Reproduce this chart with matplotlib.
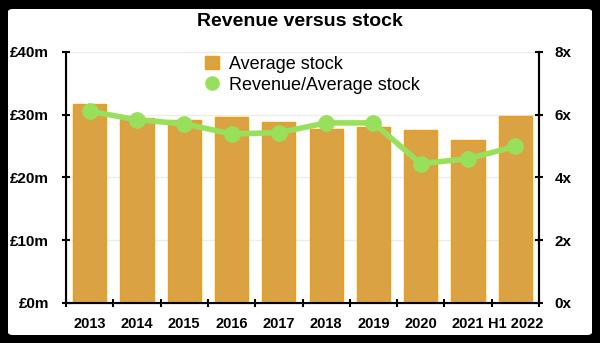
import numpy as np
import matplotlib
matplotlib.use("Agg")
import matplotlib.pyplot as plt
from matplotlib.patches import FancyBboxPatch, Patch
from matplotlib.lines import Line2D

plt.rcParams['font.family'] = ['Liberation Sans', 'DejaVu Sans']

years = ["2013", "2014", "2015", "2016", "2017", "2018", "2019", "2020", "2021", "H1 2022"]
avg_stock = [31.7, 29.5, 29.1, 29.6, 28.9, 27.8, 28.1, 27.5, 25.9, 29.8]   # £m
rev_ratio = [6.11, 5.84, 5.71, 5.39, 5.43, 5.74, 5.74, 4.44, 4.60, 4.99]   # x
left_ticks = [0, 10, 20, 30, 40]
left_labels = ["£0m", "£10m", "£20m", "£30m", "£40m"]
right_ticks = [0, 2, 4, 6, 8]
right_labels = ["0x", "2x", "4x", "6x", "8x"]

bar_fill = '#dba243'
bar_edge = '#e8a01c'
line_col = '#98e05c'

fig = plt.figure(figsize=(6, 3.43), dpi=100)
fig.patch.set_facecolor('black')
# white rounded panel inside the black frame
panel = FancyBboxPatch((8 / 600, 8 / 343), 584 / 600, 326 / 343,
                       boxstyle="round,pad=0,rounding_size=0.008",
                       transform=fig.transFigure, facecolor='white',
                       edgecolor='none', zorder=-10)
fig.patches.append(panel)

ax = fig.add_axes([66 / 600, 1 - 303 / 343, 473 / 600, 251 / 343])
ax.set_facecolor('none')
x = np.arange(len(years))
ax.bar(x, avg_stock, width=0.7, color=bar_fill, edgecolor=bar_edge, linewidth=1, zorder=2)
ax.set_xlim(-0.5, len(years) - 0.5)
ax.set_ylim(0, 40)
ax.set_yticks(left_ticks)
ax.set_yticklabels(left_labels, fontsize=11, fontweight='bold')
ax.set_xticks(x)
ax.set_xticklabels(years, fontsize=10.5, fontweight='bold')
ax.tick_params(axis='x', which='major', length=0, pad=10)
ax.set_xticks(np.arange(-0.5, len(years)), minor=True)
ax.tick_params(axis='x', which='minor', direction='inout', length=6, width=1.5)
ax.tick_params(axis='y', direction='inout', length=6, width=1.5, pad=9)
for v in left_ticks[1:]:
    ax.axhline(v, color='#ececec', linewidth=1, zorder=1)
ax.spines['top'].set_visible(False)
for s in ['left', 'right', 'bottom']:
    ax.spines[s].set_linewidth(1.5)

ax2 = ax.twinx()
ax2.plot(x, rev_ratio, color=line_col, linewidth=4, marker='o', markersize=11, zorder=3)
ax2.set_ylim(0, 8)
ax2.set_yticks(right_ticks)
ax2.set_yticklabels(right_labels, fontsize=11, fontweight='bold')
ax2.tick_params(axis='y', direction='inout', length=6, width=1.5, pad=8)
ax2.spines['top'].set_visible(False)
ax2.spines['right'].set_linewidth(1.5)

fig.text(0.5, 1 - 22 / 343, "Revenue versus stock", ha='center', va='center',
         fontsize=14, fontweight='bold')

handles = [Patch(facecolor=bar_fill, edgecolor=bar_edge),
           Line2D([], [], color=line_col, marker='o', linestyle='none', markersize=9.5)]
fig.legend(handles, ["Average stock", "Revenue/Average stock"],
           loc='upper left', bbox_to_anchor=(205 / 600, 1 - 56 / 343),
           frameon=False, fontsize=13, handlelength=0.75, handleheight=0.75,
           handletextpad=0.6, labelspacing=0.2, borderaxespad=0, borderpad=0)

fig.savefig("out.png", dpi=100, facecolor=fig.get_facecolor())
